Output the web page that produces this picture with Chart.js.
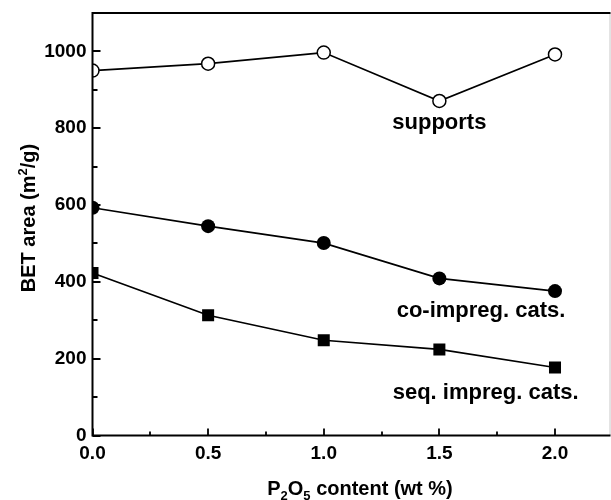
<!DOCTYPE html>
<html>
<head>
<meta charset="utf-8">
<script src="https://cdn.jsdelivr.net/npm/chart.js@4/dist/chart.umd.min.js"></script>
<style>
  html, body { margin: 0; padding: 0; background: #fff; overflow: hidden; }
  /* canvas is a little wider than the window: Chart.js keeps room on the
     right for the marker size, that margin falls outside the view */
  #wrap { width: 611px; height: 500px; overflow: hidden; }
</style>
</head>
<body>
<div id="wrap"><canvas id="betChart" width="619" height="500"></canvas></div>
<script>
// P2O5 content (wt %)
const p2o5 = [0, 0.5, 1.0, 1.5, 2.0];
// BET area (m2/g)
const supports = [950, 968, 997, 871, 992];
const coImpreg = [593, 545, 501, 409, 376];
const seqImpreg = [423, 313, 248, 224, 177];

const xTicks = [0, 0.5, 1.0, 1.5, 2.0];
const xMinor = [0.25, 0.75, 1.25, 1.75];
const yTicks = [0, 200, 400, 600, 800, 1000];
const yMinor = [100, 300, 500, 700, 900];

// series labels, placed in data units
const seriesLabels = [
    { text: 'supports', x: 1.50, y: 815 },
    { text: 'co-impreg. cats.', x: 1.68, y: 324 },
    { text: 'seq. impreg. cats.', x: 1.70, y: 110 }
];

const FONT = '"Liberation Sans", Arial, Helvetica, sans-serif';

function toPoints(ys) {
    return p2o5.map((x, i) => ({ x: x, y: ys[i] }));
}

// no automatic label padding, the plot box is fixed
function fixPadding(scale) {
    scale.paddingTop = 0;
    scale.paddingBottom = 0;
    scale.paddingLeft = 0;
    scale.paddingRight = 0;
}

const framePlugin = {
    id: 'frame',
    afterDatasetsDraw(chart) {
        const ctx = chart.ctx;
        const a = chart.chartArea;
        const xs = chart.scales.x;
        const ys = chart.scales.y;
        ctx.save();

        // right edge (faint)
        ctx.strokeStyle = '#c8c8c8';
        ctx.lineWidth = 1;
        ctx.beginPath();
        ctx.moveTo(a.right - 0.5, a.top);
        ctx.lineTo(a.right - 0.5, a.bottom);
        ctx.stroke();

        // left, bottom, top
        ctx.strokeStyle = '#000';
        ctx.lineWidth = 2;
        ctx.beginPath();
        ctx.moveTo(a.right, a.top);
        ctx.lineTo(a.left, a.top);
        ctx.lineTo(a.left, a.bottom);
        ctx.lineTo(a.right, a.bottom);
        ctx.stroke();

        // inward ticks
        ctx.lineWidth = 1.8;
        ctx.beginPath();
        xTicks.forEach(v => {
            const px = Math.round(xs.getPixelForValue(v));
            ctx.moveTo(px, a.bottom); ctx.lineTo(px, a.bottom - 7);
        });
        xMinor.forEach(v => {
            const px = Math.round(xs.getPixelForValue(v));
            ctx.moveTo(px, a.bottom); ctx.lineTo(px, a.bottom - 4);
        });
        yTicks.forEach(v => {
            const py = Math.round(ys.getPixelForValue(v));
            ctx.moveTo(a.left, py); ctx.lineTo(a.left + 8, py);
        });
        yMinor.forEach(v => {
            const py = Math.round(ys.getPixelForValue(v));
            ctx.moveTo(a.left, py); ctx.lineTo(a.left + 5, py);
        });
        ctx.stroke();

        // series labels
        ctx.fillStyle = '#000';
        ctx.font = 'bold 22px ' + FONT;
        ctx.textAlign = 'center';
        ctx.textBaseline = 'middle';
        seriesLabels.forEach(l => {
            ctx.fillText(l.text, xs.getPixelForValue(l.x), ys.getPixelForValue(l.y));
        });

        // x title: P2O5 content (wt %)
        const big = 'bold 20px ' + FONT;
        const small = 'bold 13px ' + FONT;
        const parts = [
            { t: 'P', f: big, dy: 0 },
            { t: '2', f: small, dy: 5 },
            { t: 'O', f: big, dy: 0 },
            { t: '5', f: small, dy: 5 },
            { t: ' content (wt %)', f: big, dy: 0 }
        ];
        let total = 0;
        parts.forEach(p => { ctx.font = p.f; total += ctx.measureText(p.t).width; });
        let cx = 360 - total / 2;
        ctx.textAlign = 'left';
        ctx.textBaseline = 'alphabetic';
        parts.forEach(p => {
            ctx.font = p.f;
            ctx.fillText(p.t, cx, 495 + p.dy);
            cx += ctx.measureText(p.t).width;
        });

        // y title: BET area (m2/g)
        ctx.translate(35, 218);
        ctx.rotate(-Math.PI / 2);
        const yparts = [
            { t: 'BET area (m', f: big, dy: 0 },
            { t: '2', f: small, dy: -8 },
            { t: '/g)', f: big, dy: 0 }
        ];
        total = 0;
        yparts.forEach(p => { ctx.font = p.f; total += ctx.measureText(p.t).width; });
        cx = -total / 2;
        yparts.forEach(p => {
            ctx.font = p.f;
            ctx.fillText(p.t, cx, p.dy);
            cx += ctx.measureText(p.t).width;
        });
        ctx.restore();
    }
};

const ctx = document.getElementById('betChart').getContext('2d');
new Chart(ctx, {
    type: 'scatter',
    data: {
        datasets: [
            {
                label: 'supports',
                data: toPoints(supports),
                showLine: true,
                borderColor: '#000',
                borderWidth: 1.7,
                pointStyle: 'circle',
                pointRadius: 6.5,
                pointBorderWidth: 1.5,
                pointBackgroundColor: '#fff',
                pointBorderColor: '#000',
                clip: 0
            },
            {
                label: 'co-impreg. cats.',
                data: toPoints(coImpreg),
                showLine: true,
                borderColor: '#000',
                borderWidth: 1.7,
                pointStyle: 'circle',
                pointRadius: 7,
                pointBorderWidth: 0,
                pointBackgroundColor: '#000',
                clip: 0
            },
            {
                label: 'seq. impreg. cats.',
                data: toPoints(seqImpreg),
                showLine: true,
                borderColor: '#000',
                borderWidth: 1.7,
                pointStyle: 'rect',
                pointRadius: 8.5,
                pointBorderWidth: 0,
                pointBackgroundColor: '#000',
                clip: 0
            }
        ]
    },
    options: {
        responsive: false,
        animation: false,
        layout: { padding: { top: 13, right: 0, left: 0, bottom: 0 } },
        plugins: {
            legend: { display: false },
            tooltip: { enabled: false }
        },
        scales: {
            x: {
                type: 'linear',
                min: 0,
                max: 2.24,
                grid: { display: false, drawTicks: false },
                border: { display: false },
                afterBuildTicks: scale => { scale.ticks = xTicks.map(v => ({ value: v })); },
                afterFit: scale => { scale.height = 64.5; fixPadding(scale); },
                ticks: {
                    color: '#000',
                    padding: 7,
                    maxRotation: 0,
                    font: { family: FONT, size: 19, weight: 'bold' },
                    callback: v => v.toFixed(1)
                }
            },
            y: {
                type: 'linear',
                min: 0,
                max: 1100,
                grid: { display: false, drawTicks: false },
                border: { display: false },
                afterBuildTicks: scale => { scale.ticks = yTicks.map(v => ({ value: v })); },
                afterFit: scale => { scale.width = 92.5; fixPadding(scale); },
                ticks: {
                    color: '#000',
                    padding: 6,
                    font: { family: FONT, size: 19, weight: 'bold' },
                    callback: v => String(v)
                }
            }
        }
    },
    plugins: [framePlugin]
});
</script>
</body>
</html>
